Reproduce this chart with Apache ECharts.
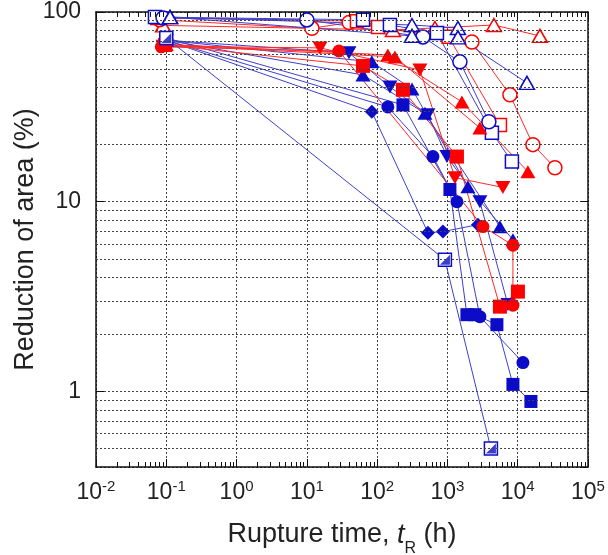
<!DOCTYPE html>
<html>
<head>
<meta charset="utf-8">
<script src="https://cdn.jsdelivr.net/npm/echarts@6/dist/echarts.min.js"></script>
<style>html,body{margin:0;padding:0;background:#fff;}#c{width:608px;height:555px;}</style>
</head>
<body>
<div id="c"></div>
<script>
// ---- Data: rupture time t_R (h) and reduction of area (%) ----
// Red, open markers
const tRedOpenTri = [0.09, 168, 664, 4585, 20690];
const raRedOpenTri = [85, 80.4, 82.4, 85.4, 74.8];
const tRedOpenCir = [0.08, 11.8, 40, 2230, 7750, 16450, 33800];
const raRedOpenCir = [91, 82, 88, 69.5, 36.6, 20, 15.1];
const tRedOpenSq = [0.074, 51.6, 103, 1040, 5585];
const raRedOpenSq = [93, 89.5, 83.4, 74, 25.4];
// Blue, open markers
const tBlueOpenSq = [0.069, 63, 152, 709, 4295, 8267];
const raBlueOpenSq = [94, 91, 85.4, 77.5, 23.1, 16.3];
const tBlueOpenCir = [0.09, 10, 448, 1506, 3890];
const raBlueOpenCir = [93, 90.8, 73.9, 54.6, 26.4];
const tBlueOpenTriA = [0.113, 313, 1411];
const raBlueOpenTriA = [94, 85.4, 82.4];
const tBlueOpenTriB = [0.113, 313, 1411, 13520];
const raBlueOpenTriB = [94, 74.8, 73.5, 42.3];
// Red, filled markers
const tRedSq = [0.096, 62.8, 233, 1366, 5585, 10070];
const raRedSq = [67, 52, 38.9, 17.3, 2.8, 3.36];
const tRedCir = [0.085, 28.6, 3199, 8549, 8549];
const raRedCir = [65.5, 62.3, 7.4, 5.9, 2.85];
const tRedDown = [0.09, 15.4, 406, 1279, 6152];
const raRedDown = [66, 64.7, 49.5, 13.4, 11.9];
const tRedUpA = [0.1, 142, 1607, 13960];
const raRedUpA = [67.5, 59.4, 33.6, 14.4];
const tRedUpB = [0.096, 179, 2897];
const raRedUpB = [67, 58, 24.5];
// Blue, filled markers
const tBlueDia = [0.1, 84, 528, 863, 2716];
const raBlueDia = [71, 29.8, 6.87, 6.96, 7.57];
const tBlueCir = [0.1, 142, 622, 1366, 2897, 11860];
const raBlueCir = [71, 31.6, 17.3, 10, 2.48, 1.42];
const tBlueSq = [0.1, 233, 1085, 1893, 2461, 5058, 8549, 15410];
const raBlueSq = [73, 32.4, 11.6, 2.54, 2.54, 2.25, 1.09, 0.886];
const tBlueUpA = [0.1, 84, 313, 1957, 8549];
const raBlueUpA = [71, 54.6, 39.3, 12, 6.31];
const tBlueUpB = [0.1, 62.8, 479, 5585];
const raBlueUpB = [71, 46.6, 29.3, 7.38];
const tBlueDown = [0.1, 39.7, 152, 528, 984, 2897, 7261];
const raBlueDown = [71, 60.9, 40.3, 28.7, 17.3, 10, 2.87];
const tBlueHalf = [0.1, 921, 4156];
const raBlueHalf = [73, 4.95, 0.5];

// Axis settings
const xMin = 0.01, xMax = 1e5;
const yMin = 0.4, yMax = 100;
const yMinorGrid = [0.5,0.6,0.7,0.8,0.9,2,3,4,5,6,7,8,9,20,30,40,50,60,70,80,90];
const xDecades = [-2,-1,0,1,2,3,4];
const minorMult = [2,3,4,5,6,7,8,9];

const RED = '#ff0000', RED_LINE = '#ff2a2a';
const BLUE = '#0b0bc8', BLUE_LINE = '#4040cc';
const FONT = 'Liberation Sans, Arial, sans-serif';
const TXT = '#222';

function zip(t, r){ return t.map((v,i)=>[v, r[i]]); }
function mk(t, r, symbol, col, lineCol, filled, size, rot){
  return {
    type: 'line', data: zip(t, r), symbol: symbol, symbolSize: size,
    symbolRotate: rot || 0, showAllSymbol: true, z: 3,
    lineStyle: {color: lineCol, width: 1},
    itemStyle: filled ? {color: col, borderWidth: 0, opacity: 1}
                      : {color: '#ffffff', borderColor: col, borderWidth: 1.5, opacity: 1},
    emphasis: {disabled: true}, animation: false
  };
}

const gridLines = yMinorGrid.map(v => ({yAxis: v}));
const tickSegs = [];
const k = Math.pow(10, 5/190);
xDecades.forEach(d => minorMult.forEach(m => {
  const v = m * Math.pow(10, d);
  tickSegs.push([{coord: [v, yMin]}, {coord: [v, yMin * k]}]);
  tickSegs.push([{coord: [v, yMax]}, {coord: [v, yMax / k]}]);
}));

const TRI = [15, 13];
const series = [
  {type: 'line', data: [], z: 1, silent: true, animation: false,
   markLine: {silent: true, symbol: 'none', animation: false, label: {show: false},
     lineStyle: {color: '#444', type: [2, 2], width: 1}, data: gridLines}},
  {type: 'line', data: [], z: 2, silent: true, animation: false,
   markLine: {silent: true, symbol: 'none', animation: false, label: {show: false},
     lineStyle: {color: '#111', type: 'solid', width: 1}, data: tickSegs}},
  // open markers
  mk(tRedOpenTri, raRedOpenTri, 'triangle', RED, RED_LINE, false, TRI),
  mk(tRedOpenCir, raRedOpenCir, 'circle', RED, RED_LINE, false, 14),
  mk(tRedOpenSq, raRedOpenSq, 'rect', RED, RED_LINE, false, 13),
  mk(tBlueOpenSq, raBlueOpenSq, 'rect', BLUE, BLUE_LINE, false, 13),
  mk(tBlueOpenCir, raBlueOpenCir, 'circle', BLUE, BLUE_LINE, false, 14),
  mk(tBlueOpenTriA, raBlueOpenTriA, 'triangle', BLUE, BLUE_LINE, false, TRI),
  mk(tBlueOpenTriB, raBlueOpenTriB, 'triangle', BLUE, BLUE_LINE, false, TRI),
  // filled markers
  mk(tBlueDia, raBlueDia, 'diamond', BLUE, BLUE_LINE, true, 14),
  mk(tBlueCir, raBlueCir, 'circle', BLUE, BLUE_LINE, true, 13),
  mk(tBlueSq, raBlueSq, 'rect', BLUE, BLUE_LINE, true, 13),
  mk(tBlueUpA, raBlueUpA, 'triangle', BLUE, BLUE_LINE, true, TRI),
  mk(tBlueUpB, raBlueUpB, 'triangle', BLUE, BLUE_LINE, true, TRI),
  mk(tBlueDown, raBlueDown, 'triangle', BLUE, BLUE_LINE, true, TRI, 180),
  mk(tRedCir, raRedCir, 'circle', RED, RED_LINE, true, 13),
  mk(tRedSq, raRedSq, 'rect', RED, RED_LINE, true, 14),
  mk(tRedDown, raRedDown, 'triangle', RED, RED_LINE, true, TRI, 180),
  mk(tRedUpA, raRedUpA, 'triangle', RED, RED_LINE, true, TRI),
  mk(tRedUpB, raRedUpB, 'triangle', RED, RED_LINE, true, TRI),
  mk(tBlueHalf, raBlueHalf, 'rect', BLUE, BLUE_LINE, false, 13),
  {type: 'scatter', data: zip(tBlueHalf, raBlueHalf), z: 4, symbol: 'path://M10,0 L10,10 L0,10 Z',
   symbolSize: 10, itemStyle: {color: BLUE}, silent: true, animation: false}
];

const tickLabel = {fontFamily: FONT, fontSize: 23, color: TXT};
const chart = echarts.init(document.getElementById('c'), null, {renderer: 'canvas'});
chart.setOption({
  backgroundColor: '#ffffff',
  animation: false,
  grid: {left: 96, right: 20, top: 12, bottom: 88, containLabel: false, outerBoundsMode: 'none'},
  xAxis: [
    {type: 'log', logBase: 10, min: xMin, max: xMax, position: 'bottom',
     axisLine: {show: true, onZero: false, lineStyle: {color: '#111', width: 1.5}},
     axisTick: {show: true, inside: true, length: 8, lineStyle: {color: '#111', width: 1}},
     splitLine: {show: true, lineStyle: {color: '#444', type: [2, 2], width: 1}},
     axisLabel: {margin: 12, formatter: v => '{b|10}{s|' + Math.round(Math.log10(v)) + '}',
       rich: {b: {fontFamily: FONT, fontSize: 23, color: TXT, lineHeight: 27},
              s: {fontFamily: FONT, fontSize: 15, color: TXT, lineHeight: 15, verticalAlign: 'top'}}},
     name: '{a|Rupture time, }{i|t}{r|R}{a| (h)}', nameLocation: 'middle', nameGap: 46,
     nameMoveOverlap: false,
     nameTextStyle: {rich: {
       a: {fontFamily: FONT, fontSize: 27, color: TXT, lineHeight: 44},
       i: {fontFamily: FONT, fontSize: 27, color: TXT, fontStyle: 'italic', lineHeight: 44},
       r: {fontFamily: FONT, fontSize: 16, color: TXT, lineHeight: 16, verticalAlign: 'bottom'}}}},
    {type: 'log', logBase: 10, min: xMin, max: xMax, position: 'top',
     axisLine: {show: true, onZero: false, lineStyle: {color: '#111', width: 1.5}},
     axisTick: {show: true, inside: true, length: 8, lineStyle: {color: '#111', width: 1}},
     splitLine: {show: false}, axisLabel: {show: false}}
  ],
  yAxis: [
    {type: 'log', logBase: 10, min: yMin, max: yMax, position: 'left',
     axisLine: {show: true, onZero: false, lineStyle: {color: '#111', width: 1.5}},
     axisTick: {show: true, inside: true, length: 8, lineStyle: {color: '#111', width: 1}},
     splitLine: {show: true, lineStyle: {color: '#444', type: [2, 2], width: 1}},
     axisLabel: Object.assign({margin: 15, showMinLabel: false,
       formatter: v => String(Math.round(v))}, tickLabel),
     name: 'Reduction of area (%)', nameLocation: 'middle', nameGap: 57, nameRotate: 90,
     nameMoveOverlap: false,
     nameTextStyle: {fontFamily: FONT, fontSize: 27, color: TXT}},
    {type: 'log', logBase: 10, min: yMin, max: yMax, position: 'right',
     axisLine: {show: true, onZero: false, lineStyle: {color: '#111', width: 1.5}},
     axisTick: {show: true, inside: true, length: 8, lineStyle: {color: '#111', width: 1}},
     splitLine: {show: false}, axisLabel: {show: false}}
  ],
  series: series
});
</script>
</body>
</html>
